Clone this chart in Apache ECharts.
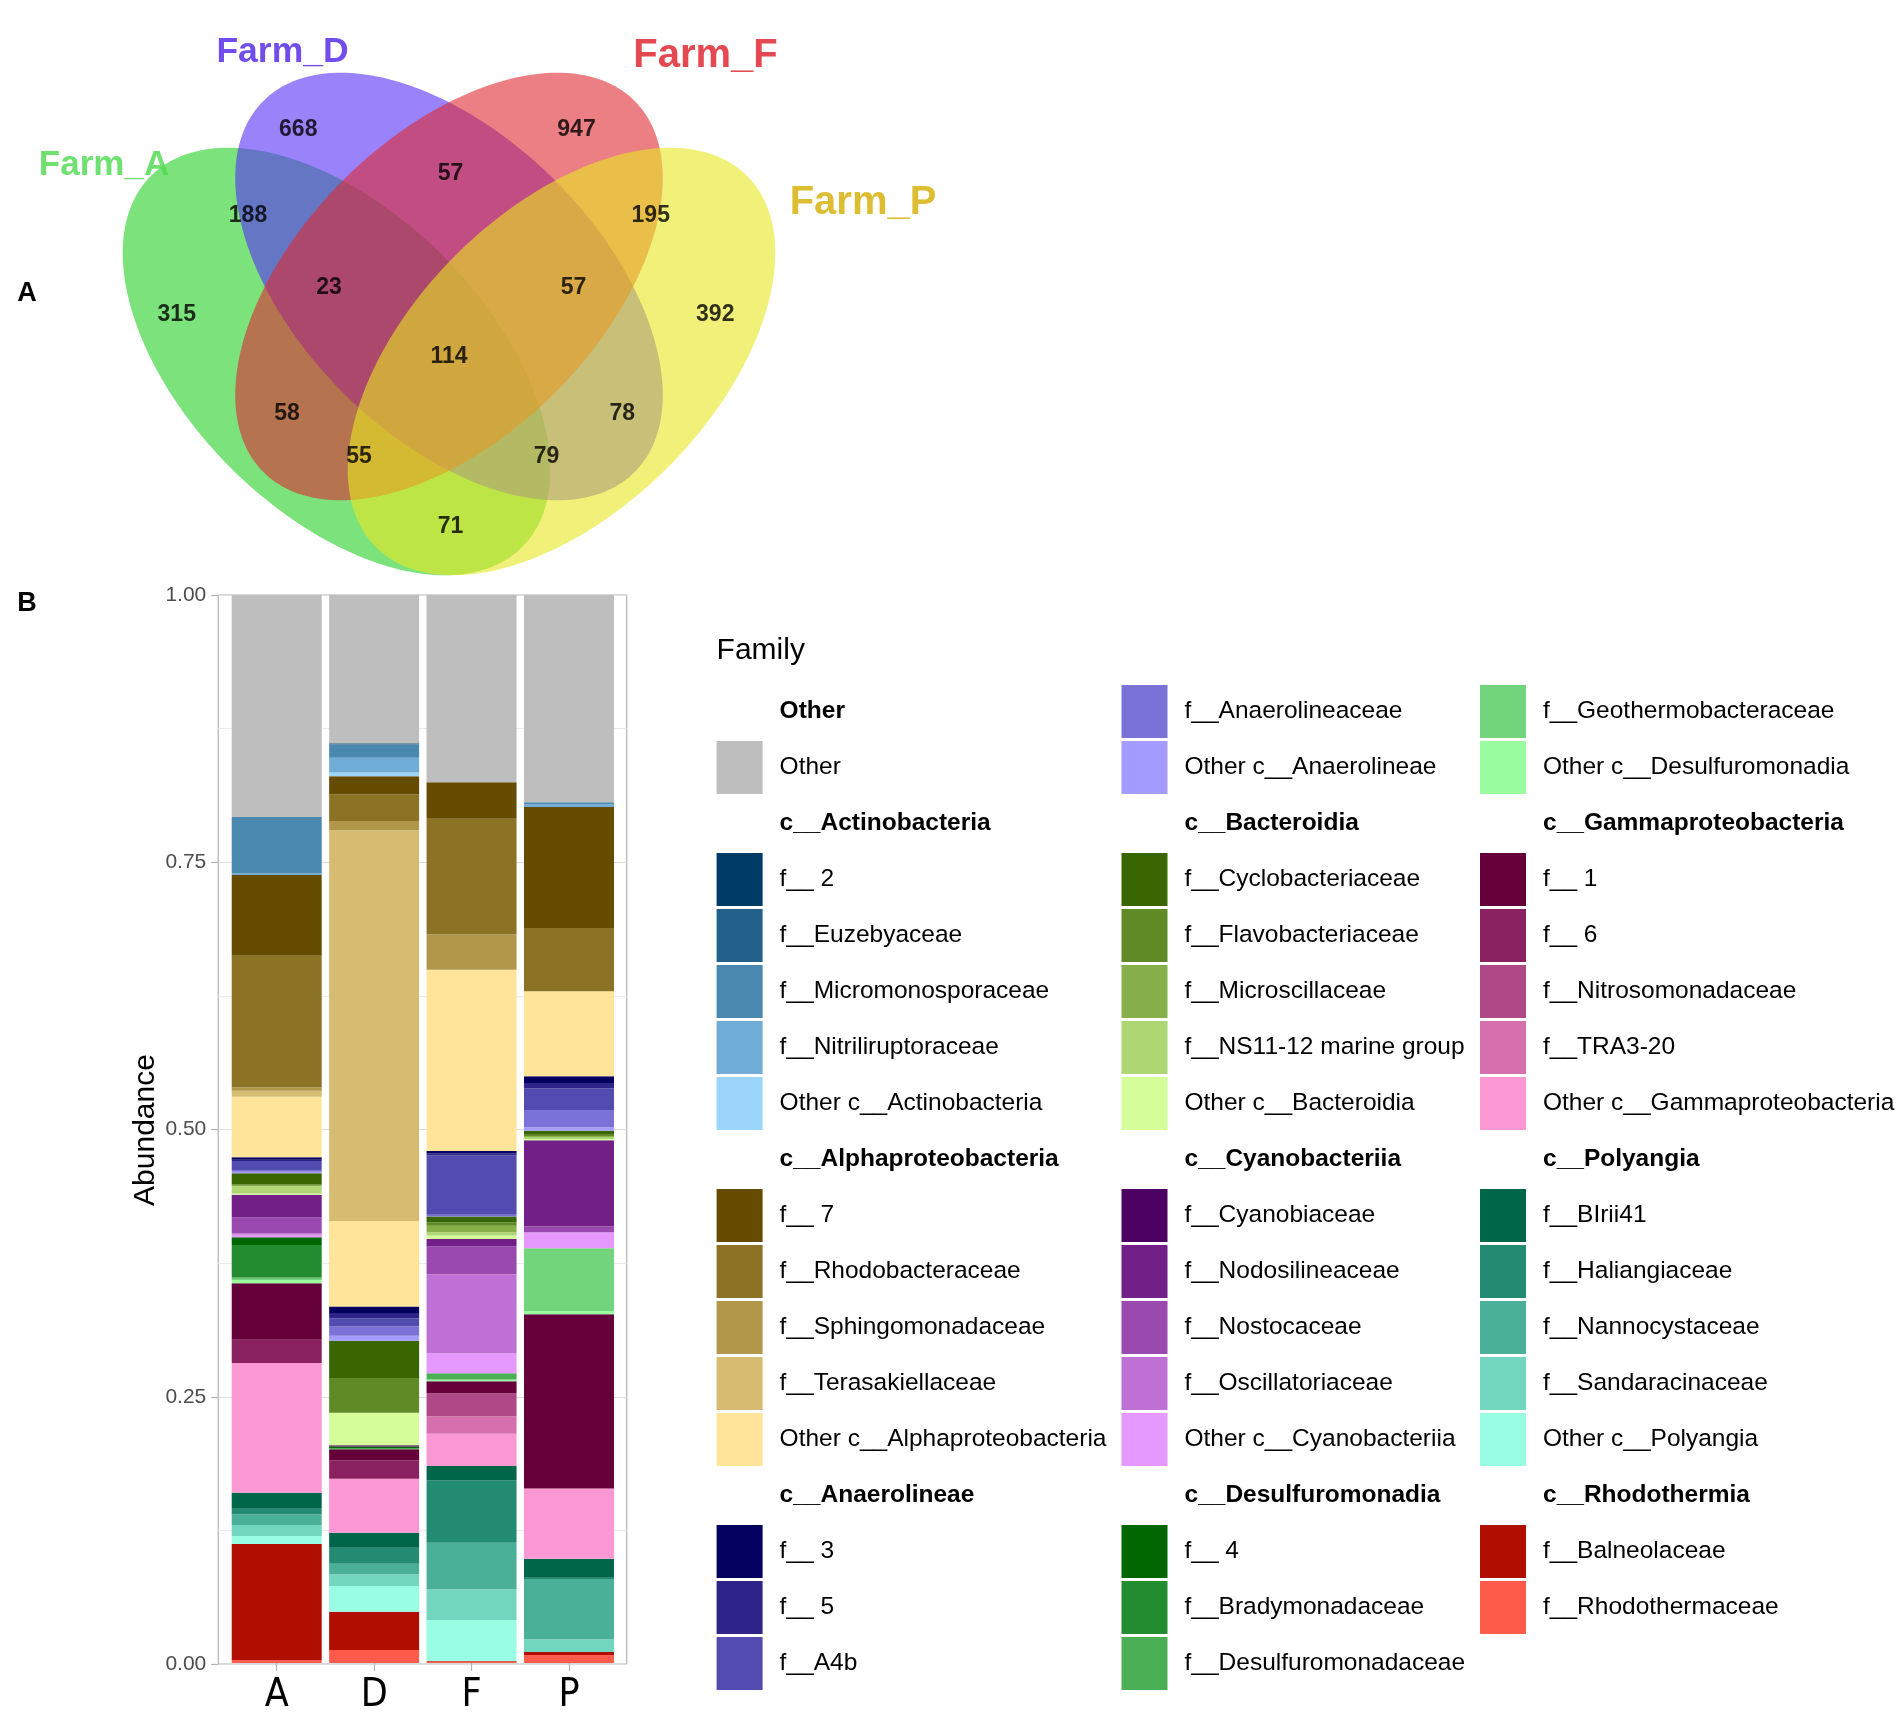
<!DOCTYPE html>
<html><head><meta charset="utf-8">
<script src="https://cdn.jsdelivr.net/npm/echarts@6/dist/echarts.min.js"></script>
<style>html,body{margin:0;padding:0;background:#fff}#c{width:1901px;height:1715px}</style>
</head><body><div id="c"></div>
<script>
// ---------------- DATA ----------------
const vennSets = ['Farm_A', 'Farm_D', 'Farm_F', 'Farm_P'];
const vennRegions = ['A', 'D', 'F', 'P', 'AD', 'DF', 'FP', 'ADF', 'DFP', 'ADFP', 'AF', 'DP', 'AFP', 'ADP', 'AP'];
const vennCounts = [315, 668, 947, 392, 188, 57, 195, 23, 57, 114, 58, 78, 55, 79, 71];

const samples = ['A', 'D', 'F', 'P'];
const classes = ['Other', 'c__Actinobacteria', 'c__Alphaproteobacteria', 'c__Anaerolineae', 'c__Bacteroidia',
  'c__Cyanobacteriia', 'c__Desulfuromonadia', 'c__Gammaproteobacteria', 'c__Polyangia', 'c__Rhodothermia'];
const families = ['Other',
  'f__ 2', 'f__Euzebyaceae', 'f__Micromonosporaceae', 'f__Nitriliruptoraceae', 'Other c__Actinobacteria',
  'f__ 7', 'f__Rhodobacteraceae', 'f__Sphingomonadaceae', 'f__Terasakiellaceae', 'Other c__Alphaproteobacteria',
  'f__ 3', 'f__ 5', 'f__A4b', 'f__Anaerolineaceae', 'Other c__Anaerolineae',
  'f__Cyclobacteriaceae', 'f__Flavobacteriaceae', 'f__Microscillaceae', 'f__NS11-12 marine group', 'Other c__Bacteroidia',
  'f__Cyanobiaceae', 'f__Nodosilineaceae', 'f__Nostocaceae', 'f__Oscillatoriaceae', 'Other c__Cyanobacteriia',
  'f__ 4', 'f__Bradymonadaceae', 'f__Desulfuromonadaceae', 'f__Geothermobacteraceae', 'Other c__Desulfuromonadia',
  'f__ 1', 'f__ 6', 'f__Nitrosomonadaceae', 'f__TRA3-20', 'Other c__Gammaproteobacteria',
  'f__BIrii41', 'f__Haliangiaceae', 'f__Nannocystaceae', 'f__Sandaracinaceae', 'Other c__Polyangia',
  'f__Balneolaceae', 'f__Rhodothermaceae'];
const familyClass = [0, 1,1,1,1,1, 2,2,2,2,2, 3,3,3,3,3, 4,4,4,4,4, 5,5,5,5,5, 6,6,6,6,6, 7,7,7,7,7, 8,8,8,8,8, 9,9];

const abundA = [0.2078, 0, 0, 0.0528, 0.0016, 0, 0.0755, 0.1233, 0.0031, 0.0056, 0.0568, 0.0022, 0.0013, 0.0084, 0.0016, 0.0015,
  0.0103, 0.0007, 0.001, 0.007, 0.001, 0, 0.0211, 0.015, 0.0014, 0.0023, 0.0072, 0.0303, 0.0015, 0.001, 0.0031,
  0.053, 0.0218, 0, 0, 0.1213, 0.015, 0.0053, 0.01, 0.0103, 0.0075, 0.1086, 0.0028];
const abundD = [0.1387, 0, 0.0013, 0.0125, 0.0137, 0.0035, 0.0169, 0.025, 0.0087, 0.3658, 0.0801, 0.0062, 0.0047, 0.0078, 0.0087, 0.0047,
  0.0349, 0.0324, 0, 0, 0.0306, 0.001, 0, 0, 0, 0, 0.0015, 0, 0.0012, 0, 0,
  0.0103, 0.0172, 0, 0, 0.0506, 0.014, 0.015, 0.01, 0.0109, 0.024, 0.0359, 0.0122];
const abundF = [0.1753, 0, 0, 0, 0, 0, 0.0341, 0.1086, 0.0328, 0, 0.1698, 0.0022, 0.0021, 0.0555, 0.0016, 0,
  0.0053, 0.0034, 0.006, 0.0031, 0.0031, 0, 0.0072, 0.0259, 0.0739, 0.0187, 0, 0, 0.0056, 0.001, 0.0011,
  0.0112, 0, 0.0218, 0.016, 0.0302, 0.0135, 0.0583, 0.0437, 0.0287, 0.0384, 0.0005, 0.0014];
const abundP = [0.1941, 0, 0, 0.0019, 0.0025, 0, 0.1133, 0.0593, 0, 0, 0.0796, 0.0062, 0.005, 0.0203, 0.0162, 0.0032,
  0.0039, 0.001, 0.001, 0.0019, 0.0012, 0, 0.0808, 0.0053, 0, 0.0149, 0, 0, 0, 0.0587, 0.0031,
  0.1631, 0, 0, 0, 0.0658, 0.0178, 0.0012, 0.0565, 0.0119, 0, 0.0028, 0.0075];
const yTicks = [0, 0.25, 0.5, 0.75, 1];

// ---------------- STYLE / LAYOUT ----------------
const familyColors = ['#BEBEBE',
  '#003A66', '#24618A', '#4A88B0', '#70ADD6', '#9BD6FA',
  '#664C00', '#8B7225', '#B0974A', '#D5BC70', '#FFE499',
  '#040060', '#2D2388', '#524BB0', '#7B72D7', '#A39BFE',
  '#3A6600', '#5F8A25', '#87B04B', '#AED672', '#D5FD99',
  '#4B0062', '#722088', '#9A49AF', '#BF70D5', '#E598FD',
  '#006600', '#238B30', '#4BAF55', '#72D57B', '#99FD9F',
  '#66003A', '#8A2160', '#AF4886', '#D56FAD', '#FB97D2',
  '#006649', '#238B72', '#4AB098', '#72D5BE', '#99FDE4',
  '#B00F00', '#FF5B4A'];
const vennCountPos = [[0.137, 0.532], [0.299, 0.779], [0.670, 0.779], [0.855, 0.532], [0.232, 0.664], [0.502, 0.721],
  [0.769, 0.664], [0.340, 0.569], [0.666, 0.569], [0.500, 0.477], [0.284, 0.401], [0.731, 0.401], [0.380, 0.343],
  [0.630, 0.343], [0.502, 0.250]];
const vennLabelPos = [[0.040, 0.732], [0.278, 0.882], [0.842, 0.877], [1.052, 0.682]];
const vennLabelSize = [35, 35.5, 40, 40];
const vennEllipse = [[0.35, 0.47, 135], [0.5, 0.57, 135], [0.5, 0.57, 45], [0.65, 0.47, 45]];
const VA = 0.35, VB = 0.2;
const vennFill = ['rgba(37,207,37,0.6)', 'rgba(87,47,247,0.6)', 'rgba(222,42,50,0.6)', 'rgba(232,232,33,0.6)'];
const vennLabelColor = ['#4CD94C', '#4E22E6', '#DD1A25', '#D4AE00'];

const FN = "'Liberation Sans Narrow', 'DejaVu Sans Condensed', 'Liberation Sans', Arial, sans-serif";
const FS = "'Liberation Sans', Arial, sans-serif";

// ---------------- BUILD ----------------
const abund = [abundA, abundD, abundF, abundP];
const barSeries = [];
for (let i = families.length - 1; i >= 0; i--) {
  barSeries.push({
    name: families[i], type: 'bar', stack: 'tot', xAxisIndex: 2, yAxisIndex: 2,
    barWidth: 90, data: abund.map(a => a[i]),
    itemStyle: { color: familyColors[i] }, emphasis: { disabled: true }, silent: true
  });
}

// legend entries: header rows + family rows in 3 columns of 18
const entries = [];
classes.forEach((c, ci) => {
  entries.push({ header: c });
  families.forEach((f, fi) => { if (familyClass[fi] === ci) entries.push({ fam: fi }); });
});
const ROWS = 18, ROW_H = 56, ROW0 = 711.5, KEY_W = 46, KEY_H = 53;
const colX = [716.6, 1121.5, 1480];
const legends = [], graphics = [];
let cur = null;
entries.forEach((e, idx) => {
  const col = Math.floor(idx / ROWS), row = idx % ROWS;
  const cy = ROW0 + ROW_H * row;
  if (e.header !== undefined) {
    cur = null;
    graphics.push({ type: 'text', x: colX[col] + 63, y: cy, style: { text: e.header, fill: '#000', font: 'bold 24.5px ' + FS, textVerticalAlign: 'middle', verticalAlign: 'middle' } });
  } else {
    if (!cur || cur.col !== col) {
      cur = { col, top: cy - KEY_H / 2, data: [] };
      legends.push(cur);
    }
    cur.data.push(families[e.fam]);
  }
});
const legendOpts = legends.map(l => ({
  show: true, orient: 'vertical', left: colX[l.col], top: l.top, padding: 0,
  itemWidth: KEY_W, itemHeight: KEY_H, itemGap: ROW_H - KEY_H, icon: 'rect', selectedMode: false,
  data: l.data,
  formatter: n => '{t|' + n + '}',
  textStyle: { rich: { t: { fontSize: 24.5, fontFamily: FS, color: '#000', padding: [0, 0, 0, 12] } } }
}));

graphics.push({ type: 'text', x: 716.6, y: 651, style: { text: 'Family', fill: '#000', font: '30px ' + FS, textVerticalAlign: 'middle', verticalAlign: 'middle' } });
graphics.push({ type: 'text', x: 27, y: 294, style: { text: 'A', fill: '#000', font: 'bold 27px ' + FS, textAlign: 'center', align: 'center', textVerticalAlign: 'middle', verticalAlign: 'middle' } });
graphics.push({ type: 'text', x: 27, y: 604, style: { text: 'B', fill: '#000', font: 'bold 27px ' + FS, textAlign: 'center', align: 'center', textVerticalAlign: 'middle', verticalAlign: 'middle' } });
graphics.push({ type: 'text', x: 146, y: 1130, rotation: Math.PI / 2, style: { text: 'Abundance', fill: '#000', font: '30px ' + FS, textAlign: 'center', align: 'center', textVerticalAlign: 'middle', verticalAlign: 'middle' } });

const option = {
  animation: false,
  backgroundColor: '#fff',
  grid: [
    { left: 74, top: 714 - 0.92 * 750, width: 1.15 * 750, height: 0.77 * 750, show: false },
    { left: 218.3, top: 595, width: 408.4, height: 1069, show: true, borderColor: '#B3B3B3', borderWidth: 1.2, backgroundColor: 'transparent' },
    { left: 228, top: 595, width: 389.7, height: 1069, show: false }
  ],
  xAxis: [
    { gridIndex: 0, type: 'value', min: 0, max: 1.15, show: false },
    { gridIndex: 1, type: 'value', min: 0, max: 1, show: false },
    { gridIndex: 2, type: 'category', data: samples,
      axisLine: { show: false },
      axisTick: { show: true, alignWithLabel: true, length: 8, lineStyle: { color: '#B3B3B3', width: 1.2 } },
      axisLabel: { fontSize: 39, fontFamily: FN, color: '#000', margin: 13 } }
  ],
  yAxis: [
    { gridIndex: 0, type: 'value', min: 0.15, max: 0.92, show: false },
    { gridIndex: 1, type: 'value', min: 0, max: 1, interval: 0.25,
      axisLine: { show: false },
      axisTick: { show: true, length: 7, lineStyle: { color: '#B3B3B3', width: 1.2 } },
      axisLabel: { fontSize: 21, fontFamily: FS, color: '#4D4D4D', margin: 12, formatter: v => yTicks.indexOf(v) >= 0 ? v.toFixed(2) : '' },
      splitLine: { show: true, lineStyle: { color: '#DEDEDE', width: 1.2 } },
      minorTick: { show: false, splitNumber: 2 },
      minorSplitLine: { show: true, lineStyle: { color: '#EBEBEB', width: 1 } } },
    { gridIndex: 2, type: 'value', min: 0, max: 1, show: false }
  ],
  legend: legendOpts,
  graphic: graphics,
  series: [
    {
      type: 'custom', xAxisIndex: 0, yAxisIndex: 0, clip: false, silent: true,
      data: vennEllipse.map((e, i) => [e[0], e[1], i]),
      renderItem: function (params, api) {
        const i = api.value(2);
        const e = vennEllipse[i];
        const th = e[2] * Math.PI / 180;
        const pts = [];
        for (let k = 0; k < 240; k++) {
          const t = k / 240 * 2 * Math.PI;
          const ux = VA * Math.cos(t), uy = VB * Math.sin(t);
          pts.push(api.coord([e[0] + ux * Math.cos(th) - uy * Math.sin(th), e[1] + ux * Math.sin(th) + uy * Math.cos(th)]));
        }
        return { type: 'polygon', shape: { points: pts }, style: { fill: vennFill[i] } };
      }
    },
    {
      type: 'scatter', xAxisIndex: 0, yAxisIndex: 0, symbolSize: 1, silent: true,
      itemStyle: { color: 'rgba(0,0,0,0)' },
      data: vennCounts.map((c, i) => ({ name: vennRegions[i], value: [vennCountPos[i][0], vennCountPos[i][1], c] })),
      label: { show: true, position: 'inside', formatter: p => p.value[2], fontFamily: FS, fontWeight: 'bold', fontSize: 23, color: '#000' }
    },
    {
      type: 'scatter', xAxisIndex: 0, yAxisIndex: 0, symbolSize: 1, silent: true,
      itemStyle: { color: 'rgba(0,0,0,0)' },
      data: vennSets.map((n, i) => ({ value: [vennLabelPos[i][0], vennLabelPos[i][1], n], label: { color: vennLabelColor[i], fontSize: vennLabelSize[i] } })),
      label: { show: true, position: 'inside', formatter: p => p.value[2], fontFamily: FS, fontWeight: 'bold', fontSize: 34 }
    }
  ].concat(barSeries)
};
const chart = echarts.init(document.getElementById('c'), null, { renderer: 'canvas' });
chart.setOption(option);
</script></body></html>
